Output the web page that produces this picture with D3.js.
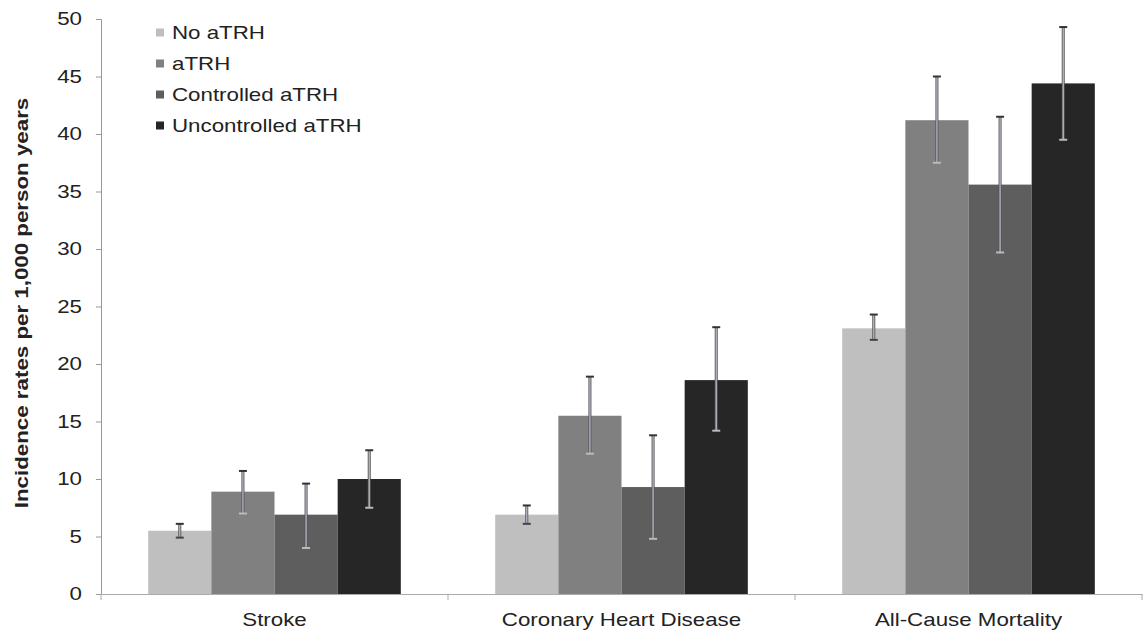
<!DOCTYPE html>
<html>
<head>
<meta charset="utf-8">
<script src="https://cdn.jsdelivr.net/npm/d3@7"></script>
<style>
  body { margin: 0; background: #fff; }
  text { font-family: "Liberation Sans", Arial, sans-serif; fill: #222; }
</style>
</head>
<body>
<svg id="chart" width="1144" height="635"></svg>
<script>
const categories = ["Stroke", "Coronary Heart Disease", "All-Cause Mortality"];
const groups = ["No aTRH", "aTRH", "Controlled aTRH", "Uncontrolled aTRH"];
const colors = ["#bfbfbf", "#808080", "#5e5e5e", "#262626"];
// values per category, one per group
const values = [
  [5.5, 8.9, 6.9, 10.0],
  [6.9, 15.5, 9.3, 18.6],
  [23.1, 41.2, 35.6, 44.4]
];
const errLow = [
  [4.9, 7.0, 4.0, 7.5],
  [6.1, 12.2, 4.8, 14.2],
  [22.1, 37.5, 29.7, 39.5]
];
const errHigh = [
  [6.1, 10.7, 9.6, 12.5],
  [7.7, 18.9, 13.8, 23.2],
  [24.3, 45.0, 41.5, 49.3]
];
const yTicks = [0, 5, 10, 15, 20, 25, 30, 35, 40, 45, 50];

// the original font is wider than Liberation Sans, stretch text a bit
const sx = 1.24;

const svg = d3.select("#chart");
const margin = { top: 19, right: 2, bottom: 41, left: 101 };
const width = 1144 - margin.left - margin.right;
const height = 635 - margin.top - margin.bottom;

const g = svg.append("g")
  .attr("transform", `translate(${margin.left},${margin.top})`);

const y = d3.scaleLinear().domain([0, 50]).range([height, 0]);
const x0 = d3.scaleBand().domain(categories).range([0, width]).paddingInner(0).paddingOuter(0);
const x1 = d3.scaleBand().domain(groups)
  .range([0, x0.bandwidth() * 0.728])
  .padding(0);
const groupOffset = (x0.bandwidth() - x1.range()[1]) / 2;

// bars
const cat = g.selectAll(".cat")
  .data(categories)
  .enter().append("g")
  .attr("transform", d => `translate(${x0(d) + groupOffset},0)`);

cat.selectAll("rect")
  .data((d, i) => values[i].map((v, j) => ({ v, j })))
  .enter().append("rect")
  .attr("x", d => x1(groups[d.j]))
  .attr("y", d => y(d.v))
  .attr("width", x1.bandwidth())
  .attr("height", d => height - y(d.v))
  .attr("fill", d => colors[d.j]);

// error bars
const err = cat.selectAll(".err")
  .data((d, i) => values[i].map((v, j) => ({ lo: errLow[i][j], hi: errHigh[i][j], j })))
  .enter().append("g")
  .attr("transform", d => `translate(${x1(groups[d.j]) + x1.bandwidth() / 2},0)`);

err.append("line")
  .attr("y1", d => y(d.lo)).attr("y2", d => y(d.hi))
  .attr("stroke", "#555").attr("stroke-width", 3);
err.append("line")
  .attr("y1", d => y(d.lo)).attr("y2", d => y(d.hi))
  .attr("stroke", "#b8b8c8").attr("stroke-width", 1.3);
err.append("line")
  .attr("x1", -4).attr("x2", 4)
  .attr("y1", d => y(d.hi)).attr("y2", d => y(d.hi))
  .attr("stroke", "#333").attr("stroke-width", 2);
err.append("line")
  .attr("x1", -4).attr("x2", 4)
  .attr("y1", d => y(d.lo)).attr("y2", d => y(d.lo))
  .attr("stroke", d => d.j === 0 ? "#444" : "#bbb").attr("stroke-width", 2);

// y axis
const yAxis = g.append("g")
  .call(d3.axisLeft(y).tickValues(yTicks).tickSize(5).tickPadding(14));
yAxis.select(".domain").attr("stroke", "#999");
yAxis.selectAll(".tick line").attr("stroke", "#999");
yAxis.selectAll(".tick text")
  .style("font-family", "'Liberation Sans', Arial, sans-serif")
  .style("font-size", "18px").attr("fill", "#222")
  .attr("x", -19 / sx)
  .attr("transform", `scale(${sx},1)`);

// x axis
const xAxis = g.append("g")
  .attr("transform", `translate(0,${height})`)
  .call(d3.axisBottom(x0).tickSize(0).tickPadding(19));
xAxis.select(".domain").attr("stroke", "#aaa");
xAxis.selectAll(".tick text")
  .style("font-family", "'Liberation Sans', Arial, sans-serif")
  .style("font-size", "18px").attr("fill", "#222")
  .attr("transform", `scale(${sx},1)`);
xAxis.selectAll(".sep")
  .data(d3.range(categories.length + 1))
  .enter().append("line")
  .attr("x1", i => i * x0.bandwidth()).attr("x2", i => i * x0.bandwidth())
  .attr("y1", 0).attr("y2", 6)
  .attr("stroke", "#aaa");

// y label
svg.append("text")
  .attr("transform", `translate(28,303) rotate(-90) scale(${sx},1)`)
  .attr("text-anchor", "middle")
  .style("font-weight", "bold")
  .style("font-size", "18px")
  .text("Incidence rates per 1,000 person years");

// legend
const legend = svg.append("g").attr("transform", "translate(156,33)");
const item = legend.selectAll("g")
  .data(groups)
  .enter().append("g")
  .attr("transform", (d, i) => `translate(0,${i * 31})`);
item.append("rect")
  .attr("x", 0).attr("y", -4.5).attr("width", 8).attr("height", 8)
  .attr("fill", (d, i) => colors[i]);
item.append("text")
  .attr("x", 16 / sx).attr("dy", "0.35em")
  .attr("transform", `scale(${sx},1)`)
  .style("font-size", "18px")
  .text(d => d);
</script>
</body>
</html>
